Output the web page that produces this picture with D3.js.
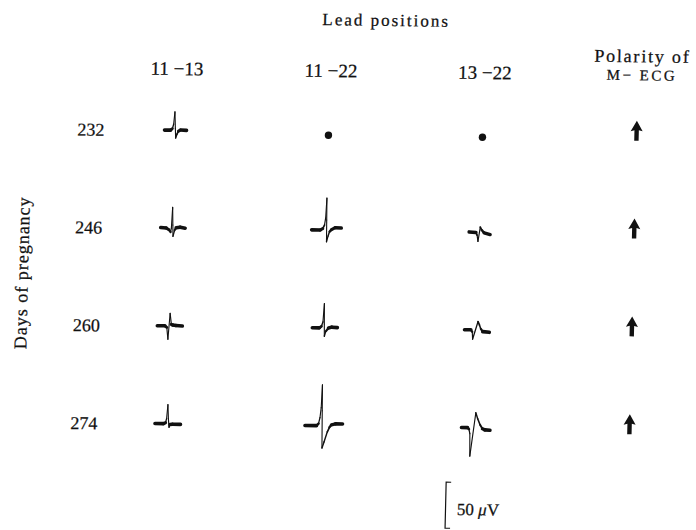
<!DOCTYPE html>
<html>
<head>
<meta charset="utf-8">
<script src="https://cdn.jsdelivr.net/npm/d3@7"></script>
<style>
  body { margin: 0; background: #fff; }
  svg { display: block; }
  text { font-family: "Liberation Serif", "DejaVu Serif", serif; fill: #111; stroke: #111; stroke-width: 0.25px; }
</style>
</head>
<body>
<svg id="svg" width="696" height="530"></svg>
<script>
// rows: days of pregnancy
const days = [232, 246, 260, 274];
// columns: lead positions
const leads = ["11 −13", "11 −22", "13 −22"];
// polarity of the maternal ECG, one per day
const polarity = ["up", "up", "up", "up"];

// averaged complexes per day, [time ms, amplitude µV], R peak at t = 0
// null = nothing recorded, drawn as a dot
const lead11_13 = [
  [[-20, 0], [-8, 0], [-4.4, 1.6], [-2, 6.5], [0, 20], [1.6, 2], [2.6, -8.4], [5, -4.3], [8, -1], [12, 0.3], [24, 0]],
  [[-23, 0.5], [-12, 0], [-7, -1.6], [-3, -4.3], [-1.6, 0], [0, 22.5], [1.2, 3.3], [2, -9], [5, -2.2], [8, 0.3], [16, 0.9], [26, 0]],
  [[-25, 0], [-10, 0], [-6, -1.6], [-3.2, -14.6], [0, 13.7], [3, 1.6], [6, 0.9], [12, 0.5], [25, 0]],
  [[-25, 0], [-8, 0], [-4, 1.1], [-2, 5.4], [0, 20.7], [1.6, 5.4], [3.2, -3.7], [5, -0.8], [10, -0.5], [26, -0.5]]
];
const lead11_22 = [
  null,
  [[-29, 0], [-12, 0], [-7, 1.6], [-3.6, 5.4], [-1.6, 13], [0, 34.8], [0.6, 11], [1.2, -12.7], [4, -6.5], [7, -1.6], [10.6, 0.5], [18, 2.7], [30, 2.4]],
  [[-23, 0], [-9, 0], [-5, 1.6], [-2, 6.5], [0, 26.4], [0.8, 4.3], [1.4, -9.1], [4, -3.8], [9.4, 0], [16, 0.9], [27, 0.5]],
  [[-33, 0], [-10, 0], [-6, 2.2], [-3.4, 8.7], [-1.4, 19.6], [0, 44.6], [0.8, 16.3], [2, -24.2], [6, -17.4], [12, -6.5], [16, -1.6], [20, 1.1], [28, 2.2], [42, 2.2]]
];
const lead13_22 = [
  null,
  [[-22, 0], [-8.6, -0.5], [-6, -3.3], [-4, -10.2], [0, 5.4], [3, 2.2], [8, -0.8], [20, -2.6]],
  [[-26.6, 0], [-14, 0], [-11, -2.2], [-10, -10.1], [0, 9], [3, 5.4], [6, 1.1], [10, -1.8], [23, -2.5]],
  [[-28, 0], [-16, 0], [-13, -1.6], [-11, -6.5], [-10, -30.9], [0, 16.3], [4, 9.8], [9, 3.3], [14, -1.1], [19, -2.2], [29, -2.6]]
];
const scaleBar = 50; // µV

const svg = d3.select("#svg");
// the printed page sits slightly skewed on the scan
const g = svg.append("g").attr("transform", "matrix(1,0.013,-0.024,1,6.7,-4.5)");

const x = d3.scalePoint().domain([...leads, "polarity"]).range([171, 633]);
const y = d3.scalePoint().domain(days).range([132.5, 426]);
const t = d3.scaleLinear().domain([0, 10]).range([0, 5]);    // ms -> px
const v = d3.scaleLinear().domain([0, 50]).range([0, -46]);  // µV -> px

// titles
g.append("text")
  .attr("x", 380).attr("y", 25.5)
  .attr("text-anchor", "middle")
  .style("font-size", "17px").style("letter-spacing", "2px")
  .text("Lead positions");

g.selectAll("text.lead")
  .data(leads)
  .enter()
  .append("text")
  .attr("class", "lead")
  .attr("x", (d) => x(d) + 1)
  .attr("y", 77.3)
  .attr("text-anchor", "middle")
  .style("font-size", "19px")
  .text((d) => d);

g.append("text")
  .attr("x", x("polarity") + 4).attr("y", 58.5)
  .attr("text-anchor", "middle")
  .style("font-size", "18px").style("letter-spacing", "1.8px")
  .text("Polarity of");
g.append("text")
  .attr("x", x("polarity") + 4).attr("y", 76.5)
  .attr("text-anchor", "middle")
  .style("font-size", "15px").style("letter-spacing", "2.5px")
  .text("M− ECG");

g.append("text")
  .attr("transform", "translate(28,277) rotate(-90)")
  .attr("text-anchor", "middle")
  .style("font-size", "18px").style("letter-spacing", "1px")
  .text("Days of pregnancy");

g.selectAll("text.day")
  .data(days)
  .enter()
  .append("text")
  .attr("class", "day")
  .attr("x", 87.5)
  .attr("y", (d) => y(d) + 6.5)
  .attr("text-anchor", "middle")
  .style("font-size", "18px")
  .text((d) => d);

// complexes: fast parts of the trace come out thin, slow parts thick
const width = (s) => {
  const dx = Math.abs(t(s[1][0]) - t(s[0][0]));
  const dy = Math.abs(v(s[1][1]) - v(s[0][1]));
  const slope = dy / Math.max(dx, 0.01);
  return 1.1 + 2.5 / (1 + (slope / 1.2) ** 2);
};

[lead11_13, lead11_22, lead13_22].forEach((byDay, i) => {
  byDay.forEach((pts, j) => {
    const cell = g.append("g")
      .attr("transform", `translate(${x(leads[i])},${y(days[j])})`);
    if (!pts) {
      cell.append("circle").attr("cy", 3).attr("r", 3.7).attr("fill", "#111");
      return;
    }
    cell.selectAll("line")
      .data(d3.pairs(pts))
      .enter()
      .append("line")
      .attr("x1", (s) => t(s[0][0]))
      .attr("y1", (s) => v(s[0][1]))
      .attr("x2", (s) => t(s[1][0]))
      .attr("y2", (s) => v(s[1][1]))
      .attr("stroke", "#111")
      .attr("stroke-width", width)
      .attr("stroke-linecap", "round");
  });
});

// polarity arrows
g.selectAll("path.arrow")
  .data(polarity)
  .enter()
  .append("path")
  .attr("class", "arrow")
  .attr("transform", (d, j) =>
    `translate(${x("polarity")},${y(days[j]) - 5})` + (d === "down" ? " rotate(180)" : ""))
  .attr("d", "M0,-10.5 L6,0 L2.2,-1 L2.2,9.5 L-2.2,9.5 L-2.2,-1 L-6,0 Z")
  .attr("fill", "#111");

// calibration bar
const bx = 451, by = 480.8, bh = v(0) - v(scaleBar);
g.append("path")
  .attr("d", `M${bx + 5},${by} H${bx} V${by + bh} H${bx + 5}`)
  .attr("fill", "none")
  .attr("stroke", "#111")
  .attr("stroke-width", 1.2);
const lbl = g.append("text")
  .attr("x", bx + 11.5).attr("y", by + 32.7)
  .style("font-size", "17px");
lbl.append("tspan").text("50 ");
lbl.append("tspan").style("font-style", "italic").text("μ");
lbl.append("tspan").text("V");
</script>
</body>
</html>
